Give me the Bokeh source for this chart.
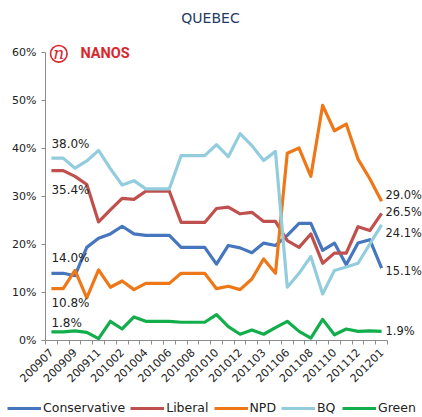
from bokeh.plotting import figure
from bokeh.layouts import column
from bokeh.core.properties import value
from bokeh.models import (Range1d, FixedTicker, PrintfTickFormatter, Label,
                          LabelSet, ColumnDataSource, Legend, LegendItem)
from bokeh.embed import file_html
from bokeh.resources import INLINE

# ---------------- data ----------------
categories = ["200907", "200908", "200909", "200910", "200911", "200912",
              "201002", "201003", "201004", "201005", "201006", "201007",
              "201008", "201009", "201010", "201011", "201012", "201102",
              "201103", "201105", "201106", "201107", "201108", "201109",
              "201110", "201111", "201112", "201112b", "201201"]
tick_labels = ["200907", "200909", "200911", "201002", "201004", "201006",
               "201008", "201010", "201012", "201103", "201106", "201108",
               "201110", "201112", "201201"]

conservative = [14.0, 14.0, 13.5, 19.4, 21.3, 22.2, 23.8, 22.2, 21.9, 21.9,
                21.9, 19.4, 19.4, 19.4, 15.9, 19.8, 19.3, 18.3, 20.3, 19.8,
                21.9, 24.4, 24.4, 18.8, 20.3, 15.8, 20.3, 21.0, 15.1]
liberal = [35.4, 35.4, 34.2, 32.5, 24.7, 27.2, 29.6, 29.4, 31.1, 31.1,
           31.1, 24.6, 24.6, 24.6, 27.5, 27.8, 26.4, 26.7, 24.8, 24.8,
           20.8, 19.4, 22.2, 16.1, 18.2, 18.2, 23.7, 22.9, 26.5]
npd = [10.8, 10.8, 14.6, 8.9, 14.7, 11.1, 12.4, 10.6, 11.9, 11.9,
       11.9, 14.0, 14.0, 14.0, 10.8, 11.3, 10.6, 12.8, 17.0, 14.0,
       39.0, 40.1, 34.2, 49.0, 43.7, 45.1, 37.8, 33.7, 29.0]
bq = [38.0, 38.0, 35.9, 37.4, 39.6, 35.8, 32.4, 33.3, 31.6, 31.6,
      31.6, 38.5, 38.5, 38.5, 40.8, 38.3, 43.1, 40.6, 37.5, 39.4,
      11.1, 14.0, 17.5, 9.7, 14.6, 15.3, 16.1, 20.1, 24.1]
green = [1.8, 1.8, 2.0, 1.7, 0.4, 4.0, 2.4, 4.9, 4.0, 4.0,
         4.0, 3.8, 3.8, 3.8, 5.4, 2.9, 1.3, 2.2, 1.3, 2.7,
         4.0, 1.9, 0.5, 4.4, 1.2, 2.4, 1.9, 2.0, 1.9]
series_names = ["Conservative", "Liberal", "NPD", "BQ", "Green"]
y_ticks = [0, 10, 20, 30, 40, 50, 60]

# ---------------- styles / layout ----------------
colors = {"Conservative": "#4676BE", "Liberal": "#C0504D", "NPD": "#EE7718",
          "BQ": "#93CDDD", "Green": "#13AE4C"}
series = dict(zip(series_names, [conservative, liberal, npd, bq, green]))
FONT = "DejaVu Sans"
TXT = "#222222"

W = 422
MAIN_H = 395
LEG_H = 417 - MAIN_H
LEFT = 45            # y-axis position (px)
BOTTOM = 340         # x-axis position (px)
CAT_W = 342 / 29     # px per category
PX_PER_UNIT = 4.8    # px per percentage point

n = len(categories)
x = list(range(n))
x_end = -0.5 + (W - LEFT) / CAT_W
y_end = BOTTOM / PX_PER_UNIT

p = figure(width=W, height=MAIN_H, output_backend="svg", toolbar_location=None,
           title=None, x_range=Range1d(-0.5, x_end), y_range=Range1d(0, y_end),
           min_border_left=LEFT, min_border_right=0, min_border_top=0,
           min_border_bottom=MAIN_H - BOTTOM)
p.frame_align = False
p.outline_line_color = None
p.xgrid.visible = False
p.ygrid.visible = False

for name in series_names:
    p.line(x, series[name], line_color=colors[name], line_width=3.2,
           line_join="round")

# y axis
ya = p.yaxis[0]
ya.ticker = FixedTicker(ticks=y_ticks)
ya.formatter = PrintfTickFormatter(format="%d%%")
ya.bounds = (0, 60)
ya.axis_line_color = "#8c8c8c"
ya.major_tick_line_color = "#8c8c8c"
ya.major_tick_out = 4
ya.major_tick_in = 0
ya.minor_tick_line_color = None
ya.major_label_standoff = 5
ya.major_label_text_font = FONT
ya.major_label_text_font_size = "11px"
ya.major_label_text_color = TXT

# x axis
xa = p.xaxis[0]
even = [i for i in x if i % 2 == 0]
xa.ticker = FixedTicker(ticks=even, minor_ticks=[i - 0.5 for i in range(n + 1)])
xa.major_label_overrides = {i: lab for i, lab in zip(even, tick_labels)}
xa.bounds = (-0.5, n - 0.5)
xa.axis_line_color = "#8c8c8c"
xa.major_tick_line_color = None
xa.major_tick_out = 4
xa.major_tick_in = 0
xa.minor_tick_line_color = "#8c8c8c"
xa.minor_tick_out = 4
xa.minor_tick_in = 0
xa.major_label_orientation = 0.785398
xa.major_label_standoff = 6
xa.major_label_text_font = FONT
xa.major_label_text_font_size = "11px"
xa.major_label_text_color = TXT

# data labels (first and last values)
first_offsets = {"Conservative": 15, "Liberal": -19, "NPD": -14, "BQ": 14, "Green": 9}
last_offsets = {"Conservative": -3, "Liberal": 1, "NPD": 6, "BQ": -8, "Green": 0}
lx, ly, lt, lxo, lyo, lfs = [], [], [], [], [], []
for name in series_names:
    vals = series[name]
    lx += [x[0], x[-1]]
    ly += [vals[0], vals[-1]]
    lt += ["%.1f%%" % vals[0], "%.1f%%" % vals[-1]]
    lxo += [0, 4]
    lyo += [first_offsets[name], last_offsets[name]]
    lfs += ["12px", "11.4px"]
lsrc = ColumnDataSource(dict(x=lx, y=ly, t=lt, xo=lxo, yo=lyo, fs=lfs))
p.add_layout(LabelSet(x="x", y="y", text="t", source=lsrc, x_offset="xo",
                      y_offset="yo", text_baseline="middle", text_align="left",
                      text_font=value(FONT), text_font_size="fs",
                      text_color=TXT))

def px_to_x(px):
    return -0.5 + (px - LEFT) / CAT_W

def px_to_y(py):
    return (BOTTOM - py) / PX_PER_UNIT

# title
p.add_layout(Label(x=px_to_x(210), y=px_to_y(17), text="QUEBEC",
                   text_align="center", text_baseline="middle", text_font=FONT,
                   text_font_size="14px", text_color="#1F3A64"))

# logo
logo_red = "#D9272E"
p.circle(x=[px_to_x(58.3)], y=[px_to_y(53.3)], radius=8.3, radius_units="screen",
         fill_color=None, line_color=logo_red, line_width=1.6)
p.add_layout(Label(x=px_to_x(58.3), y=px_to_y(53.3), text="n", text_align="center",
                   text_baseline="middle", text_font="DejaVu Serif",
                   text_font_style="italic", text_font_size="17px",
                   text_color=logo_red, y_offset=1))
p.add_layout(Label(x=px_to_x(80), y=px_to_y(53.3), text="NANOS", text_align="left",
                   text_baseline="middle", text_font="Roboto",
                   text_font_style="bold", text_font_size="14.5px",
                   text_color=logo_red))

# legend in its own strip below
q = figure(width=W, height=LEG_H, output_backend="svg", toolbar_location=None,
           title=None, x_range=Range1d(0, W), y_range=Range1d(0, LEG_H),
           min_border=0)
q.frame_align = False
q.axis.visible = False
q.grid.visible = False
q.outline_line_color = None
items = []
for name in series_names:
    r = q.line(x, series[name], line_color=colors[name], line_width=3.2,
               visible=False)
    items.append(LegendItem(label=name, renderers=[r]))
lg = Legend(items=items, orientation="horizontal", location=(7, 2),
            glyph_width=34, glyph_height=12, label_standoff=2, spacing=5,
            padding=0, margin=0, border_line_color=None,
            background_fill_alpha=0, label_text_font=FONT,
            label_text_font_size="12.5px", label_text_color=TXT,
            label_height=14)
q.add_layout(lg, "center")

open("out.html", "w").write(file_html(column(p, q, spacing=0), INLINE))
